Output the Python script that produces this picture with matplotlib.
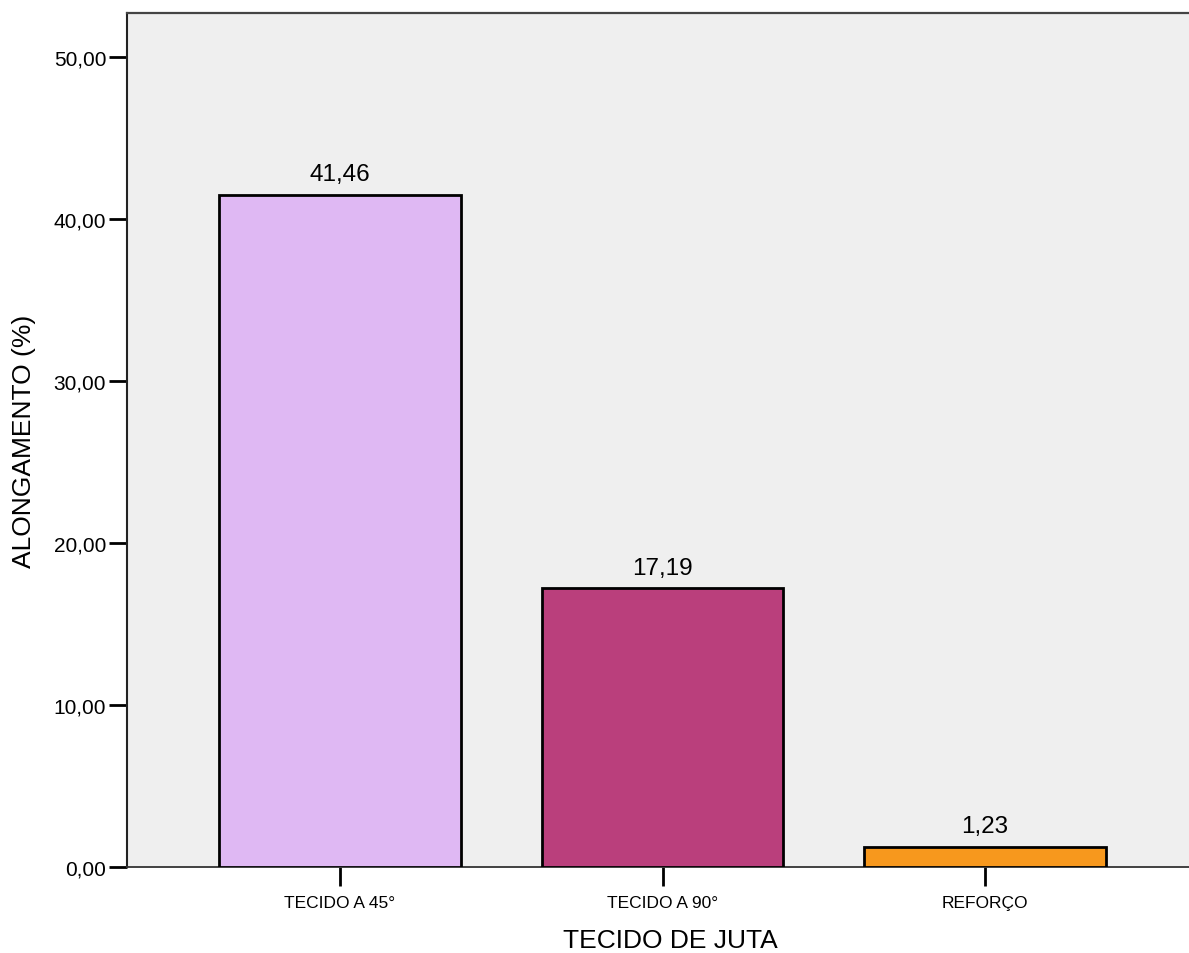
import numpy as np
import matplotlib
matplotlib.use('Agg')
import matplotlib.pyplot as plt

#Data
#--------------------------------
categorias=['TECIDO A 45°','TECIDO A 90°','REFORÇO']
alongamento=[41.46,17.19,1.23]
cores=['#dfb8f3','#ba3f7c','#f7981d']
yticks=[0,10,20,30,40,50]
#--------------------------------

plt.rcParams['font.family']=['Liberation Sans','DejaVu Sans']

W=1189;H=954
fig=plt.figure(figsize=(W/100,H/100),dpi=100)
#plot area runs off the right edge of the figure
left=127;right=1198;top=14;bottom=868
ax=fig.add_axes([left/W,1-bottom/H,(right-left)/W,(bottom-top)/H])
ax.set_facecolor('#efefef')

x=np.arange(len(categorias))
bars=ax.bar(x,alongamento,width=0.75,color=cores,edgecolor='black',linewidth=2,zorder=3)

for xi,v in zip(x,alongamento):
    ax.text(xi,v+0.6,('%.2f'%v).replace('.',','),ha='center',va='bottom',fontsize=17.5)

ax.set_xlim(-0.66,2.66)
ax.set_ylim(0,52.7)
ax.set_xticks(x)
ax.set_xticklabels(categorias,fontsize=12.5)
ax.set_yticks(yticks)
ax.set_yticklabels([('%.2f'%t).replace('.',',') for t in yticks],fontsize=15)
ax.tick_params(axis='y',length=13,width=2,pad=2)
ax.tick_params(axis='x',length=14,width=2,pad=6)

ax.spines['right'].set_visible(False)
ax.spines['top'].set_color('#444444');ax.spines['top'].set_linewidth(1.6)
ax.spines['left'].set_color('#222222');ax.spines['left'].set_linewidth(1.5)
ax.spines['bottom'].set_color('#333333');ax.spines['bottom'].set_linewidth(1.3)

ax.set_xlabel('TECIDO DE JUTA',fontsize=19)
ax.xaxis.set_label_coords((670-left)/(right-left),-(929-bottom)/(bottom-top))
ax.set_ylabel('ALONGAMENTO (%)',fontsize=19,labelpad=13)

plt.savefig('out.png',dpi=100)
